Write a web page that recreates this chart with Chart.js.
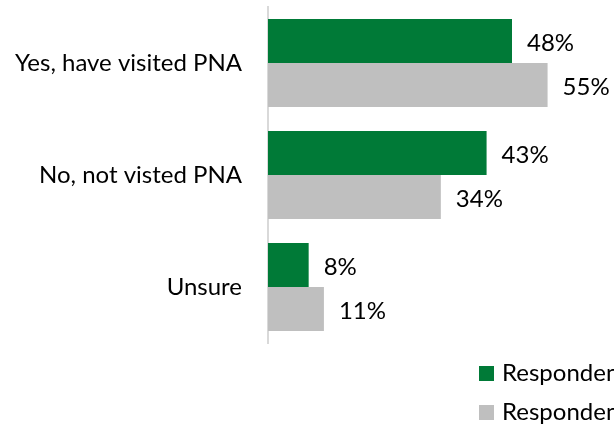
<!DOCTYPE html>
<html>
<head>
<meta charset="utf-8">
<script src="https://cdn.jsdelivr.net/npm/chart.js@4"></script>
<style>
  html, body { margin:0; padding:0; background:#fff; overflow:hidden; }
  #wrap { width:614px; height:425px; position:relative; }
</style>
</head>
<body>
<div id="wrap"><canvas id="chart" width="614" height="425"></canvas></div>
<script>
// --- data ---
const categories = ["Yes, have visited PNA", "No, not visted PNA", "Unsure"];
const seriesNames = ["Respondents 2022", "Respondents 2019"];
const seriesA = [48, 43, 8];
const seriesB = [55, 34, 11];
const colors = ["#007A37", "#BFBFBF"];

const FONT = "Lato";

// value labels to the right of each bar
const valueLabels = {
    id: "valueLabels",
    afterDatasetsDraw(chart) {
        const ctx = chart.ctx;
        ctx.save();
        ctx.font = "24px " + FONT;
        ctx.fillStyle = "#000";
        ctx.textBaseline = "middle";
        ctx.textAlign = "left";
        chart.data.datasets.forEach((ds, di) => {
            chart.getDatasetMeta(di).data.forEach((bar, i) => {
                ctx.fillText(ds.data[i] + "%", bar.x + 15, bar.y + 2);
            });
        });
        ctx.restore();
    }
};

// stacked legend in the lower right corner
const cornerLegend = {
    id: "cornerLegend",
    afterDraw(chart) {
        const ctx = chart.ctx;
        ctx.save();
        ctx.font = "24px " + FONT;
        ctx.textBaseline = "middle";
        chart.data.datasets.forEach((ds, di) => {
            let y = 366 + di * 39;
            ctx.fillStyle = ds.backgroundColor;
            ctx.fillRect(479, y, 15, 15);
            ctx.fillStyle = "#000";
            ctx.fillText(ds.label, 502, y + 7);
        });
        ctx.restore();
    }
};

new Chart(document.getElementById("chart"), {
    type: "bar",
    data: {
        labels: categories,
        datasets: [
            { label: seriesNames[0], data: seriesA, backgroundColor: colors[0] },
            { label: seriesNames[1], data: seriesB, backgroundColor: colors[1] }
        ]
    },
    options: {
        indexAxis: "y",
        responsive: false,
        animation: false,
        datasets: { bar: { barPercentage: 1, categoryPercentage: 0.786 } },
        layout: { padding: { top: 7, right: 41, bottom: 82, left: 0 } },
        plugins: { legend: { display: false }, tooltip: { enabled: false } },
        scales: {
            x: {
                min: 0, max: 60,
                display: false
            },
            y: {
                grid: { display: false },
                border: { display: true, color: "#D9D9D9", width: 2 },
                ticks: { color: "#000", font: { family: FONT, size: 24 }, padding: 18 },
                afterFit(scale) {
                    scale.width = 268;
                    scale.paddingTop = 0;
                    scale.paddingBottom = 0;
                }
            }
        }
    },
    plugins: [valueLabels, cornerLegend]
});
</script>
</body>
</html>
